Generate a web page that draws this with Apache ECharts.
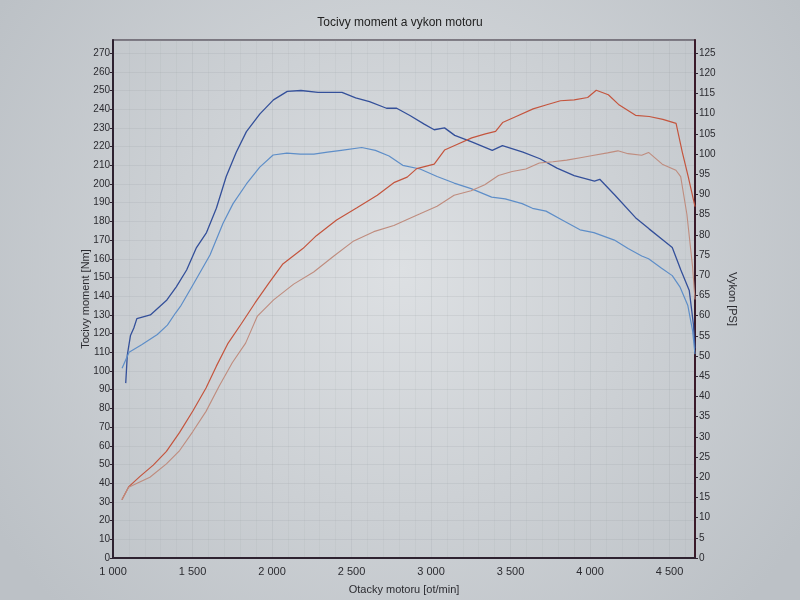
<!DOCTYPE html>
<html><head><meta charset="utf-8">
<script src="https://cdn.jsdelivr.net/npm/echarts@6/dist/echarts.min.js"></script>
<style>html,body{margin:0;padding:0;background:#cdd1d5;}#c{width:800px;height:600px;}</style>
</head><body><div id="c"></div>
<script>
// Engine speed [ot/min] and torque [Nm] - tuned (dark blue)
const torqueTunedRpm = [1080,1090,1110,1131,1150,1235,1339,1398,1463,1525,1588,1650,1712,1775,1839,1924,2009,2096,2182,2289,2440,2526,2613,2720,2784,2870,2957,3020,3085,3149,3256,3385,3449,3578,3685,3792,3900,4028,4061,4157,4286,4371,4474,4517,4571,4624,4650,4660];
const torqueTuned = [93.5,108.5,119,123,128,130,138,145,154,166,174,187,204,217,228,237.5,245,249.5,250,249,249,246,244,240.5,240.5,236.5,232,229,230,226,222.5,218,220.5,217,213.5,208.5,204.5,201.5,202.5,194,182,176,169,166,154,143,125,112];
// Torque [Nm] - stock (light blue)
const torqueStockRpm = [1057,1101,1180,1279,1342,1393,1424,1506,1610,1692,1755,1839,1923,2007,2093,2178,2263,2349,2435,2564,2650,2736,2822,2931,3038,3145,3252,3381,3466,3573,3638,3723,3830,3937,4024,4153,4239,4325,4368,4450,4517,4565,4615,4645,4660];
const torqueStock = [101.5,110,114,119.5,124.5,131,134.5,146.5,162,179,189.5,200,209,215.5,216.5,216,216,217,218,219.5,218,215,210,208,204,200.5,197.5,193,192,189.5,187,185.5,180.5,175.5,174,170,165.5,161.5,160,155,151,145,135,121.5,109];
// Power [PS] - tuned (red)
const powerTunedRpm = [1056,1098,1170,1253,1336,1419,1502,1585,1650,1721,1807,1894,1979,2066,2194,2279,2406,2534,2662,2770,2850,2910,3020,3085,3170,3256,3342,3406,3450,3535,3642,3728,3814,3900,3985,4039,4115,4179,4286,4372,4458,4541,4580,4617,4660];
const powerTuned = [14.4,17.6,20.2,23,26.4,31.1,36.4,42.1,47.5,53,58,63.2,68,72.7,76.6,79.8,83.7,86.7,89.8,93,94.3,96.4,97.5,101,102.5,104,105,105.6,107.8,109.3,111.2,112.2,113.2,113.4,114,115.8,114.7,112.3,109.6,109.3,108.6,107.6,100.5,94.5,87];
// Power [PS] - stock (light red)
const powerStockRpm = [1056,1098,1232,1336,1419,1502,1585,1668,1751,1834,1908,2010,2136,2262,2387,2514,2640,2766,2850,2931,3038,3145,3252,3338,3424,3510,3596,3681,3767,3853,3939,4025,4110,4175,4239,4325,4368,4454,4540,4570,4609,4645,4660];
const powerStock = [14.4,17.5,20,23.3,26.6,31.3,36.3,42.6,48.4,53.2,59.9,63.9,67.8,70.8,74.7,78.5,80.8,82.3,83.8,85.2,87.1,89.8,90.9,92.4,94.7,95.7,96.3,97.8,98.1,98.5,99.1,99.7,100.3,100.8,100.1,99.7,100.4,97.5,96,94.4,85.1,72,64];

const titleText = 'Tocivy moment a vykon motoru';
const xName = 'Otacky motoru [ot/min]';
const yLeftName = 'Tocivy moment [Nm]';
const yRightName = 'Vykon [PS]';

const pairs = (xs, ys) => xs.map((x, i) => [x, ys[i]]);
const fmtRpm = v => {
  if (v % 500 !== 0) return '';
  const t = Math.floor(v / 1000), r = v % 1000;
  return t > 0 ? t + ' ' + String(r).padStart(3, '0') : String(r);
};
const FONT = 'Liberation Sans';
const axisCol = '#2e2230';
const labelCol = '#2b2b30';

const chart = echarts.init(document.getElementById('c'));
chart.setOption({
  animation: false,
  backgroundColor: {type: 'radial', x: 0.5, y: 0.45, r: 0.8,
    colorStops: [{offset: 0, color: '#dde0e3'}, {offset: 1, color: '#bcc1c6'}]},
  title: {text: titleText, left: 'center', top: 12,
    textStyle: {fontSize: 12, fontWeight: 'normal', color: '#222', fontFamily: FONT}},
  grid: {left: 113, right: 105, top: 40, bottom: 42, show: true, borderColor: axisCol, borderWidth: 1.2, backgroundColor: 'transparent'},
  xAxis: {
    type: 'value', min: 1000, max: 4660, interval: 500,
    name: xName, nameLocation: 'middle', nameGap: 26,
    nameTextStyle: {fontSize: 11, color: labelCol, fontFamily: FONT},
    axisLine: {show: true, lineStyle: {color: axisCol, width: 2}},
    axisTick: {show: false},
    axisLabel: {formatter: fmtRpm, fontSize: 11, color: labelCol, fontFamily: FONT, margin: 8, showMaxLabel: false},
    splitLine: {show: true, lineStyle: {color: 'rgba(150,155,160,0.18)', width: 1}},
    minorTick: {show: false, splitNumber: 5},
    minorSplitLine: {show: true, lineStyle: {color: 'rgba(150,155,160,0.10)', width: 1}}
  },
  yAxis: [{
    type: 'value', min: 0, max: 277, interval: 10, position: 'left',
    name: yLeftName, nameLocation: 'middle', nameGap: 22, nameRotate: 90, nameMoveOverlap: false,
    nameTextStyle: {fontSize: 11, color: labelCol, fontFamily: FONT},
    axisLine: {show: true, lineStyle: {color: axisCol, width: 2}},
    axisTick: {show: true, length: 3, lineStyle: {color: axisCol}},
    axisLabel: {fontSize: 10, color: labelCol, fontFamily: FONT, margin: 3, showMaxLabel: false},
    splitLine: {show: true, lineStyle: {color: 'rgba(150,155,160,0.18)', width: 1}}
  }, {
    type: 'value', min: 0, max: 277 / 2.16, interval: 5, position: 'right',
    name: yRightName, nameLocation: 'middle', nameGap: 32, nameRotate: -90, nameMoveOverlap: false,
    nameTextStyle: {fontSize: 11, color: labelCol, fontFamily: FONT},
    axisLine: {show: true, lineStyle: {color: '#3a1a2a', width: 2}},
    axisTick: {show: true, length: 3, lineStyle: {color: axisCol}},
    axisLabel: {fontSize: 10, color: labelCol, fontFamily: FONT, margin: 4, showMaxLabel: false},
    splitLine: {show: false}
  }],
  series: [
    {name: 'Moment tuned', type: 'line', yAxisIndex: 0, showSymbol: false, data: pairs(torqueTunedRpm, torqueTuned),
      lineStyle: {color: '#34509a', width: 1.3}, itemStyle: {color: '#34509a'}},
    {name: 'Moment stock', type: 'line', yAxisIndex: 0, showSymbol: false, data: pairs(torqueStockRpm, torqueStock),
      lineStyle: {color: '#5e8ec8', width: 1.2}, itemStyle: {color: '#5e8ec8'}},
    {name: 'Vykon tuned', type: 'line', yAxisIndex: 1, showSymbol: false, data: pairs(powerTunedRpm, powerTuned),
      lineStyle: {color: '#c4553e', width: 1.2}, itemStyle: {color: '#c4553e'}},
    {name: 'Vykon stock', type: 'line', yAxisIndex: 1, showSymbol: false, data: pairs(powerStockRpm, powerStock),
      lineStyle: {color: '#bf8c7e', width: 1.1}, itemStyle: {color: '#bf8c7e'}}
  ]
});
</script></body></html>
